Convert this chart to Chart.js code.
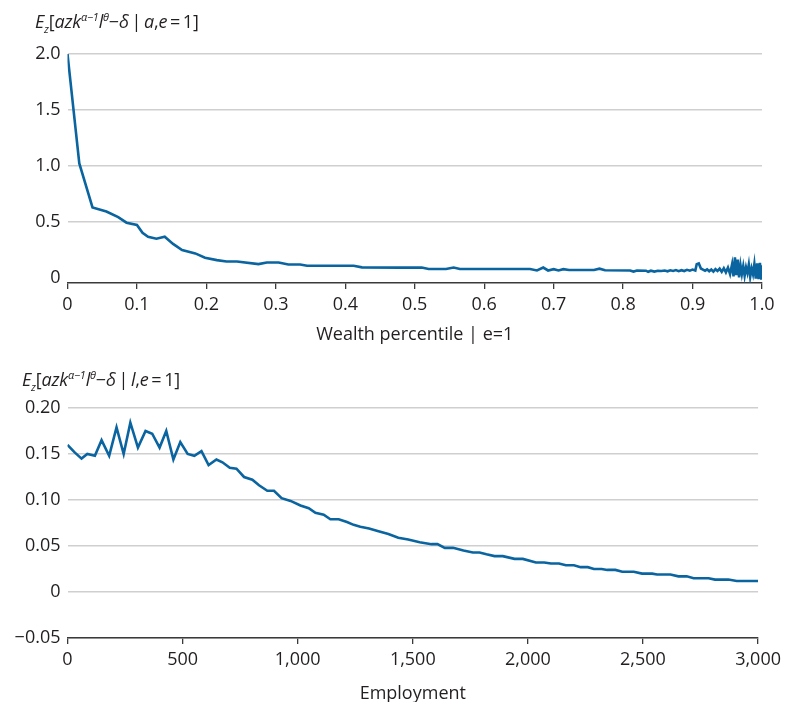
<!DOCTYPE html>
<html>
<head>
<meta charset="utf-8">
<script src="https://cdn.jsdelivr.net/npm/chart.js@4.4.1/dist/chart.umd.min.js"></script>
<style>
  html, body { margin: 0; padding: 0; overflow: hidden; background: #fff; }
  #wrap { position: relative; width: 786px; height: 702px; overflow: hidden; }
  .panel { position: absolute; left: 0; width: 786px; }
  .ytitle { position: absolute; font: 18px "Open Sans", sans-serif; color: #231f20; white-space: nowrap; letter-spacing: -0.2px; }
  .ytitle i { font-style: italic; }
  .ytitle sub, .ytitle sup { font-size: 11px; font-style: italic; line-height: 0; }
  .ytitle sub { vertical-align: -5px; }
  .ytitle sup { vertical-align: 7px; }
</style>
</head>
<body>
<div id="wrap">
  <div class="panel" style="top:0;height:350px"><canvas id="topChart"></canvas></div>
  <div class="panel" style="top:350px;height:362px"><canvas id="bottomChart"></canvas></div>
  <div class="ytitle" style="left:35px;top:9px"><i>E</i><sub>z</sub>[<i>azk</i><sup>α−1</sup><i>l</i><sup>θ</sup>−<i>δ</i>&thinsp;|&thinsp;<i>a</i>,<i>e</i>&thinsp;=&thinsp;1]</div>
  <div class="ytitle" style="left:22px;top:367px"><i>E</i><sub>z</sub>[<i>azk</i><sup>α−1</sup><i>l</i><sup>θ</sup>−<i>δ</i>&thinsp;|&thinsp;<i>l</i>,<i>e</i>&thinsp;=&thinsp;1]</div>
</div>
<script>
// top panel: return by wealth percentile
const wealthPct = [0, 0.017, 0.036, 0.056, 0.073, 0.085, 0.1, 0.108, 0.116, 0.128, 0.14, 0.152, 0.165, 0.184, 0.198,
  0.215, 0.229, 0.244, 0.275, 0.287, 0.304, 0.318, 0.335, 0.345, 0.412, 0.424, 0.479, 0.51, 0.52, 0.545, 0.556, 0.565,
  0.666, 0.676, 0.685, 0.692, 0.7, 0.707, 0.714, 0.722, 0.758, 0.766, 0.774, 0.81, 0.815, 0.82, 0.833, 0.836, 0.84,
  0.845, 0.85, 0.855,
  0.86, 0.864, 0.868, 0.872, 0.876, 0.88, 0.884, 0.888, 0.892, 0.896, 0.9, 0.904, 0.906, 0.909, 0.912, 0.915, 0.918,
  0.921, 0.924, 0.927, 0.93, 0.933, 0.936, 0.939, 0.942, 0.945, 0.948, 0.951, 0.954, 0.957, 0.959, 0.961, 0.963,
  0.965, 0.967, 0.969, 0.971, 0.973, 0.975, 0.977, 0.979, 0.981, 0.983, 0.985, 0.987, 0.989, 0.991, 0.993, 0.995,
  0.997, 0.999, 1.0];
const wealthRet = [2.0, 1.02, 0.627, 0.59, 0.54, 0.49, 0.47, 0.40, 0.364, 0.346, 0.364, 0.30, 0.245, 0.215, 0.176,
  0.155, 0.143, 0.143, 0.119, 0.134, 0.134, 0.116, 0.116, 0.104, 0.104, 0.09, 0.088, 0.088, 0.075, 0.075, 0.088, 0.075,
  0.075, 0.062, 0.088, 0.062, 0.074, 0.062, 0.074, 0.066, 0.066, 0.078, 0.064, 0.062, 0.052, 0.062, 0.060, 0.050, 0.060,
  0.052, 0.060, 0.058,
  0.062, 0.055, 0.064, 0.058, 0.066, 0.056, 0.065, 0.057, 0.068, 0.060, 0.070, 0.062, 0.118, 0.125, 0.080, 0.070, 0.060,
  0.072, 0.055, 0.070, 0.052, 0.074, 0.058, 0.078, 0.050, 0.082, 0.045, 0.088, 0.030, 0.120, 0.010, 0.180, 0.020,
  0.160, 0.000, 0.110, 0.030, 0.100, 0.015, 0.090, 0.040, 0.115, 0.005, 0.080, 0.030, 0.120, -0.010, 0.125, -0.015,
  0.130, -0.020, 0.110];
const topXTicks = [0, 0.1, 0.2, 0.3, 0.4, 0.5, 0.6, 0.7, 0.8, 0.9, 1.0];
const topXLabels = ['0', '0.1', '0.2', '0.3', '0.4', '0.5', '0.6', '0.7', '0.8', '0.9', '1.0'];
const topYTicks = [0, 0.5, 1.0, 1.5, 2.0];
const topYLabels = ['0', '0.5', '1.0', '1.5', '2.0'];

// bottom panel: return by employment
const employment = [0, 30, 61, 86, 119, 148, 181, 213, 244, 273, 306, 339, 368, 400, 429, 460, 490, 522, 551, 582,
  613, 647, 673, 705, 734, 767, 803, 832, 868, 897, 930, 969, 1012, 1048, 1077, 1113, 1142, 1178, 1214, 1243, 1272,
  1310, 1351, 1394, 1437, 1480, 1530, 1581, 1607, 1639, 1675, 1720, 1761, 1790, 1820, 1855, 1891, 1942, 1978, 2035,
  2071, 2100, 2135, 2165, 2200, 2229, 2260, 2287, 2320, 2345, 2380, 2410, 2460, 2496, 2540, 2561, 2619, 2654, 2690,
  2720, 2785, 2813, 2871, 2907, 3000];
const empRet = [0.160, 0.152, 0.145, 0.150, 0.148, 0.165, 0.148, 0.179, 0.150, 0.184, 0.157, 0.175, 0.172, 0.157,
  0.175, 0.144, 0.163, 0.150, 0.148, 0.153, 0.138, 0.144, 0.141, 0.135, 0.134, 0.125, 0.122, 0.116, 0.110, 0.110,
  0.102, 0.099, 0.094, 0.091, 0.086, 0.084, 0.079, 0.079, 0.076, 0.073, 0.071, 0.069, 0.066, 0.063, 0.059, 0.057,
  0.054, 0.052, 0.052, 0.048, 0.048, 0.045, 0.043, 0.043, 0.041, 0.039, 0.039, 0.036, 0.036, 0.032, 0.032, 0.031,
  0.031, 0.029, 0.029, 0.027, 0.027, 0.025, 0.025, 0.024, 0.024, 0.022, 0.022, 0.020, 0.020, 0.019, 0.019, 0.017,
  0.017, 0.015, 0.015, 0.0135, 0.0135, 0.012, 0.012];
const botXTicks = [0, 500, 1000, 1500, 2000, 2500, 3000];
const botXLabels = ['0', '500', '1,000', '1,500', '2,000', '2,500', '3,000'];
const botYTicks = [-0.05, 0, 0.05, 0.10, 0.15, 0.20];
const botYLabels = ['\u22120.05', '0', '0.05', '0.10', '0.15', '0.20'];

const lineColor = '#0a64a0';
const textColor = '#231f20';
const fontFam = '"Open Sans", sans-serif';

function makeChart(id, xs, ys, cfg) {
  const pts = xs.map((x, i) => ({ x: x, y: ys[i] }));
  return new Chart(document.getElementById(id), {
    type: 'line',
    data: {
      datasets: [{
        data: pts,
        borderColor: lineColor,
        borderWidth: 2.6,
        pointRadius: 0,
        tension: 0,
        fill: false
      }]
    },
    options: {
      responsive: true,
      maintainAspectRatio: false,
      animation: false,
      layout: { padding: { top: cfg.padTop, right: 24, left: 0, bottom: 0 } },
      plugins: { legend: { display: false }, tooltip: { enabled: false } },
      scales: {
        x: {
          type: 'linear',
          min: cfg.xMin,
          max: cfg.xMax,
          afterBuildTicks: (s) => { s.ticks = cfg.xTicks.map(v => ({ value: v })); },
          afterFit: (s) => { s.height = cfg.xHeight; },
          ticks: {
            color: textColor,
            font: { family: fontFam, size: 18 },
            padding: 5,
            maxRotation: 0,
            autoSkip: false,
            callback: (v) => cfg.xLabels[cfg.xTicks.indexOf(v)]
          },
          grid: { drawOnChartArea: false, drawTicks: true, tickLength: 6, color: '#3a3a3a', lineWidth: 1.3 },
          border: { display: true, color: '#3a3a3a', width: 1.6 },
          title: {
            display: true,
            text: cfg.xTitle,
            color: textColor,
            font: { family: fontFam, size: 18 },
            padding: { top: 0, bottom: cfg.titlePad }
          }
        },
        y: {
          min: cfg.yMin,
          max: cfg.yMax,
          afterBuildTicks: (s) => { s.ticks = cfg.yTicks.map(v => ({ value: v })); },
          afterFit: (s) => { s.width = 67.5; },
          ticks: {
            color: textColor,
            font: { family: fontFam, size: 18 },
            padding: 7,
            autoSkip: false,
            callback: (v) => cfg.yLabels[cfg.yTicks.indexOf(v)]
          },
          grid: {
            drawTicks: false,
            lineWidth: 1.5,
            color: (c) => (cfg.hideZeroGrid && c.tick && c.tick.value === 0) ? 'rgba(0,0,0,0)' : '#cfcfcf'
          },
          border: { display: false }
        }
      }
    }
  });
}

makeChart('topChart', wealthPct, wealthRet, {
  padTop: 54, xMin: 0, xMax: 1, yMin: -0.05, yMax: 2.0,
  xTicks: topXTicks, xLabels: topXLabels, yTicks: topYTicks, yLabels: topYLabels,
  xHeight: 67, titlePad: 4, hideZeroGrid: true,
  xTitle: 'Wealth percentile | e=1'
});

makeChart('bottomChart', employment, empRet, {
  padTop: 58, xMin: 0, xMax: 3000, yMin: -0.05, yMax: 0.20,
  xTicks: botXTicks, xLabels: botXLabels, yTicks: botYTicks, yLabels: botYLabels,
  xHeight: 74, titlePad: 7, hideZeroGrid: false,
  xTitle: 'Employment'
});
</script>
</body>
</html>
